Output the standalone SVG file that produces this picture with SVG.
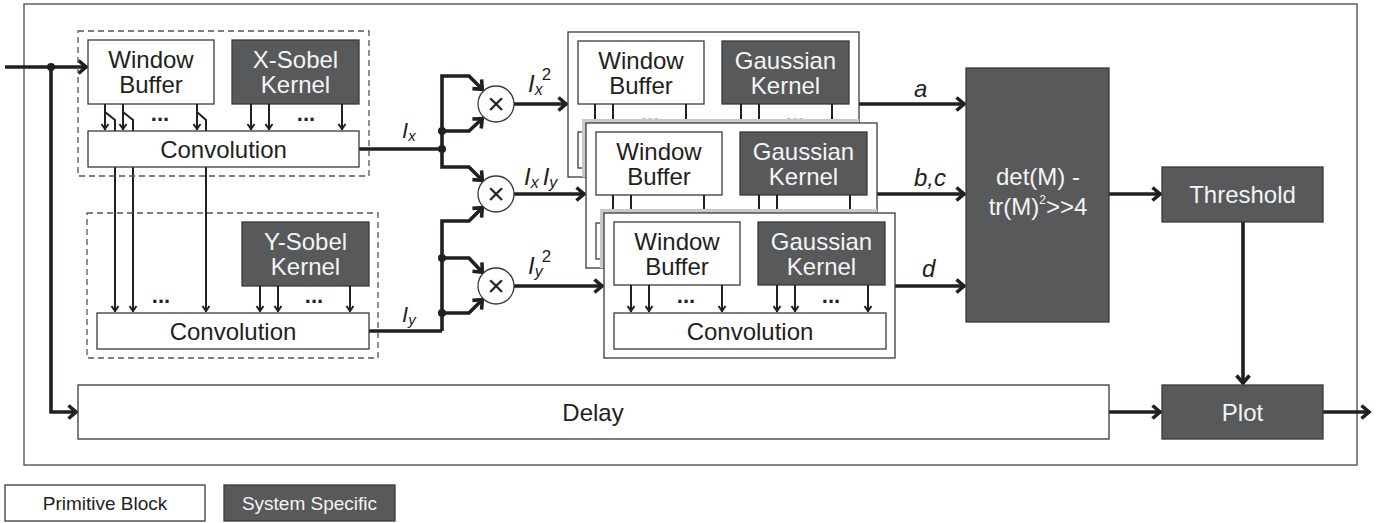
<svg xmlns="http://www.w3.org/2000/svg" width="1391" height="523" viewBox="0 0 1391 523">
  <style>
    .box { fill: #ffffff; stroke: #3a3a3a; stroke-width: 1.3; }
    .dk { fill: #58595b; stroke: #3a3a3a; stroke-width: 1.3; }
    .dash { fill: none; stroke: #555555; stroke-width: 1.3; stroke-dasharray: 6 4; }
    .frame { fill: none; stroke: #555555; stroke-width: 1.4; }
    .shadow { fill: #cacaca; stroke: none; }
    .t { font-family: "Liberation Sans", Arial, sans-serif; font-size: 24px; fill: #231f20; text-anchor: middle; }
    .tw { font-family: "Liberation Sans", Arial, sans-serif; font-size: 24px; fill: #f4f4f4; text-anchor: middle; }
    .leg { font-family: "Liberation Sans", Arial, sans-serif; font-size: 19px; text-anchor: middle; }
    .it { font-family: "Liberation Sans", Arial, sans-serif; font-size: 24px; font-style: italic; fill: #231f20; }
    .dots { font-family: "Liberation Sans", Arial, sans-serif; font-size: 22px; font-weight: bold; fill: #231f20; text-anchor: middle; opacity: 0.99; }
    .w { fill: none; stroke: #231f20; stroke-width: 3.6; stroke-linejoin: miter; }
    .thin { fill: none; stroke: #231f20; stroke-width: 2; }
    .arr { marker-end: url(#ah); }
    .sarr { marker-end: url(#ahs); }
    .dot { fill: #231f20; }
  </style>
  <defs>
    <marker id="ah" markerUnits="userSpaceOnUse" viewBox="0 0 14 16" markerWidth="14" markerHeight="16" refX="12" refY="8" orient="auto">
      <path d="M3.5,1.5 L11,8 L3.5,14.5" fill="none" stroke="#231f20" stroke-width="3.6"/>
    </marker>
    <marker id="ahs" markerUnits="userSpaceOnUse" viewBox="0 0 10 10" markerWidth="10" markerHeight="10" refX="9" refY="5" orient="auto">
      <path d="M3,1.5 L8,5 L3,8.5" fill="none" stroke="#231f20" stroke-width="2"/>
    </marker>
  </defs>

  <rect width="1391" height="523" fill="#ffffff"/>

  <!-- system boundary -->
  <rect class="frame" x="24" y="4" width="1333" height="461"/>

  <!-- connectors -->
  <g id="connectors">
    <!-- pixel input -->
    <path class="w arr" d="M5,67 H87"/>
    <path class="w arr" d="M51,67 V412 H77"/>
    <!-- window buffer taps routed to the Y convolution -->
    <path class="thin sarr" d="M105,112 L115,120 V312"/>
    <path class="thin sarr" d="M123,112 L133,120 V312"/>
    <path class="thin sarr" d="M197,112 L206,120 V312"/>
    <!-- Ix bus -->
    <path class="w" d="M359,149 H442"/>
    <path class="w arr" d="M442,149 V76 H469 L483,90"/>
    <path class="w arr" d="M442,131 H469 L483,118"/>
    <path class="w arr" d="M442,149 V167 H469 L483,181"/>
    <!-- Iy bus -->
    <path class="w" d="M369,331 H442"/>
    <path class="w arr" d="M442,331 V221 H469 L483,207"/>
    <path class="w arr" d="M442,258 H469 L483,273"/>
    <path class="w arr" d="M442,313 H469 L483,299"/>
    <!-- products into gaussian stages -->
    <path class="w arr" d="M514,104 H567"/>
    <path class="w arr" d="M514,194 H585"/>
    <path class="w arr" d="M514,286 H603"/>
    <!-- a, b/c, d -->
    <path class="w arr" d="M859,104 H965"/>
    <path class="w arr" d="M877,194 H965"/>
    <path class="w arr" d="M895,286 H965"/>
    <!-- response, threshold, plot -->
    <path class="w arr" d="M1109,194 H1161"/>
    <path class="w arr" d="M1243,222 V384"/>
    <path class="w arr" d="M1109,412 H1161"/>
    <path class="w arr" d="M1323,412 H1370"/>
    <!-- junctions -->
    <circle class="dot" cx="51" cy="67" r="4"/>
    <circle class="dot" cx="442" cy="131" r="4"/>
    <circle class="dot" cx="442" cy="149" r="4"/>
    <circle class="dot" cx="442" cy="258" r="4"/>
    <circle class="dot" cx="442" cy="313" r="4"/>
    <!-- signal labels -->
    <text class="it" x="402" y="138" style="font-size:22px">I<tspan dy="3" style="font-size:15px">x</tspan></text>
    <text class="it" x="402" y="322" style="font-size:22px">I<tspan dy="3" style="font-size:15px">y</tspan></text>
    <text class="it" x="528" y="92">I<tspan dy="3" style="font-size:16px">x</tspan><tspan dx="-1" dy="-15" style="font-size:17px;font-style:normal">2</tspan></text>
    <text class="it" x="524" y="185">I<tspan dy="3" style="font-size:16px">x</tspan><tspan dx="4" dy="-3">I</tspan><tspan dy="3" style="font-size:16px">y</tspan></text>
    <text class="it" x="528" y="274">I<tspan dy="3" style="font-size:16px">y</tspan><tspan dx="-1" dy="-15" style="font-size:17px;font-style:normal">2</tspan></text>
    <text class="it" x="914" y="97">a</text>
    <text class="it" x="914" y="186">b,c</text>
    <text class="it" x="922" y="277">d</text>
  </g>

  <!-- X gradient stage -->
  <g id="x-sobel-stage">
    <rect class="dash" x="78" y="31" width="291" height="145"/>
    <rect class="box" x="88" y="40" width="126" height="64"/>
    <text class="t" x="151" y="68">Window</text>
    <text class="t" x="151" y="93">Buffer</text>
    <rect class="dk" x="232" y="40" width="127" height="64"/>
    <text class="tw" x="295.5" y="68">X-Sobel</text>
    <text class="tw" x="295.5" y="93">Kernel</text>
    <path class="thin sarr" d="M105,104 V130"/>
    <path class="thin sarr" d="M123,104 V130"/>
    <path class="thin sarr" d="M197,104 V130"/>
    <path class="thin sarr" d="M251,104 V130"/>
    <path class="thin sarr" d="M269,104 V130"/>
    <path class="thin sarr" d="M342,104 V130"/>
    <text class="dots" x="160" y="121">...</text>
    <text class="dots" x="306" y="121">...</text>
    <rect class="box" x="88" y="131" width="271" height="36"/>
    <text class="t" x="223.5" y="157.5">Convolution</text>
  </g>

  <!-- Y gradient stage -->
  <g id="y-sobel-stage">
    <rect class="dash" x="87" y="213" width="291" height="145"/>
    <rect class="dk" x="242" y="222" width="127" height="64"/>
    <text class="tw" x="305.5" y="250">Y-Sobel</text>
    <text class="tw" x="305.5" y="275">Kernel</text>
    <path class="thin sarr" d="M260,286 V312"/>
    <path class="thin sarr" d="M278,286 V312"/>
    <path class="thin sarr" d="M350,286 V312"/>
    <text class="dots" x="161" y="303">...</text>
    <text class="dots" x="314" y="303">...</text>
    <rect class="box" x="97" y="313" width="272" height="36"/>
    <text class="t" x="233" y="339.5">Convolution</text>
  </g>

  <!-- multipliers -->
  <g id="mul-xx">
    <circle class="box" cx="496" cy="104" r="18"/>
    <text class="t" x="496" y="114" style="font-size:30px">×</text>
  </g>
  <g id="mul-xy">
    <circle class="box" cx="496" cy="194" r="18"/>
    <text class="t" x="496" y="204" style="font-size:30px">×</text>
  </g>
  <g id="mul-yy">
    <circle class="box" cx="496" cy="286" r="18"/>
    <text class="t" x="496" y="296" style="font-size:30px">×</text>
  </g>

  <!-- gaussian smoothing stage for a (lower part sits behind the next stage) -->
  <g id="gauss-a" transform="translate(568,32)">
    <rect class="box" x="0" y="0" width="291" height="145"/>
    <rect class="box" x="10" y="9" width="126" height="63"/>
    <text class="t" x="73" y="36.5">Window</text>
    <text class="t" x="73" y="61.5">Buffer</text>
    <rect class="dk" x="154" y="9" width="127" height="63"/>
    <text class="tw" x="217.5" y="36.5">Gaussian</text>
    <text class="tw" x="217.5" y="61.5">Kernel</text>
    <path class="thin sarr" d="M27,72 V99"/>
    <path class="thin sarr" d="M45,72 V99"/>
    <path class="thin sarr" d="M118,72 V99"/>
    <path class="thin sarr" d="M173,72 V99"/>
    <path class="thin sarr" d="M191,72 V99"/>
    <path class="thin sarr" d="M264,72 V99"/>
    <text class="dots" x="82" y="90">...</text>
    <text class="dots" x="227" y="90">...</text>
    <rect class="box" x="10" y="100" width="272" height="36"/>
  </g>

  <!-- gaussian smoothing stage for b, c -->
  <g id="gauss-bc">
    <rect class="shadow" x="582" y="119" width="277" height="58"/>
    <g transform="translate(586,123)">
      <rect class="box" x="0" y="0" width="291" height="145"/>
      <rect class="box" x="10" y="9" width="126" height="63"/>
      <text class="t" x="73" y="36.5">Window</text>
      <text class="t" x="73" y="61.5">Buffer</text>
      <rect class="dk" x="154" y="9" width="127" height="63"/>
      <text class="tw" x="217.5" y="36.5">Gaussian</text>
      <text class="tw" x="217.5" y="61.5">Kernel</text>
      <path class="thin sarr" d="M27,72 V99"/>
      <path class="thin sarr" d="M45,72 V99"/>
      <path class="thin sarr" d="M118,72 V99"/>
      <path class="thin sarr" d="M173,72 V99"/>
      <path class="thin sarr" d="M191,72 V99"/>
      <path class="thin sarr" d="M264,72 V99"/>
      <text class="dots" x="82" y="90">...</text>
      <text class="dots" x="227" y="90">...</text>
      <rect class="box" x="10" y="100" width="272" height="36"/>
    </g>
  </g>

  <!-- gaussian smoothing stage for d -->
  <g id="gauss-d">
    <rect class="shadow" x="600" y="209" width="277" height="59"/>
    <g transform="translate(604,213)">
      <rect class="box" x="0" y="0" width="291" height="145"/>
      <rect class="box" x="10" y="9" width="126" height="63"/>
      <text class="t" x="73" y="36.5">Window</text>
      <text class="t" x="73" y="61.5">Buffer</text>
      <rect class="dk" x="154" y="9" width="127" height="63"/>
      <text class="tw" x="217.5" y="36.5">Gaussian</text>
      <text class="tw" x="217.5" y="61.5">Kernel</text>
      <path class="thin sarr" d="M27,72 V99"/>
      <path class="thin sarr" d="M45,72 V99"/>
      <path class="thin sarr" d="M118,72 V99"/>
      <path class="thin sarr" d="M173,72 V99"/>
      <path class="thin sarr" d="M191,72 V99"/>
      <path class="thin sarr" d="M264,72 V99"/>
      <text class="dots" x="82" y="90">...</text>
      <text class="dots" x="227" y="90">...</text>
      <rect class="box" x="10" y="100" width="272" height="36"/>
      <text class="t" x="146" y="126.5">Convolution</text>
    </g>
  </g>

  <!-- corner response -->
  <g id="response">
    <rect class="dk" x="966" y="68" width="143" height="254"/>
    <text class="tw" x="1038" y="185">det(M) -</text>
    <text class="tw" x="1038" y="215">tr(M)<tspan dy="-11" style="font-size:12px">2</tspan><tspan dy="11">&gt;&gt;4</tspan></text>
  </g>

  <g id="threshold">
    <rect class="dk" x="1162" y="167" width="161" height="55"/>
    <text class="tw" x="1242.5" y="203">Threshold</text>
  </g>

  <g id="delay">
    <rect class="box" x="78" y="385" width="1031" height="54"/>
    <text class="t" x="593" y="420.5">Delay</text>
  </g>

  <g id="plot">
    <rect class="dk" x="1162" y="385" width="161" height="54"/>
    <text class="tw" x="1242.5" y="420.5">Plot</text>
  </g>

  <!-- legend -->
  <g id="legend-primitive">
    <rect class="box" x="5" y="485" width="200" height="36"/>
    <text class="leg" x="105" y="510" fill="#231f20">Primitive Block</text>
  </g>
  <g id="legend-system">
    <rect class="dk" x="224" y="485" width="171" height="36"/>
    <text class="leg" x="309.5" y="510" fill="#f4f4f4">System Specific</text>
  </g>
</svg>
